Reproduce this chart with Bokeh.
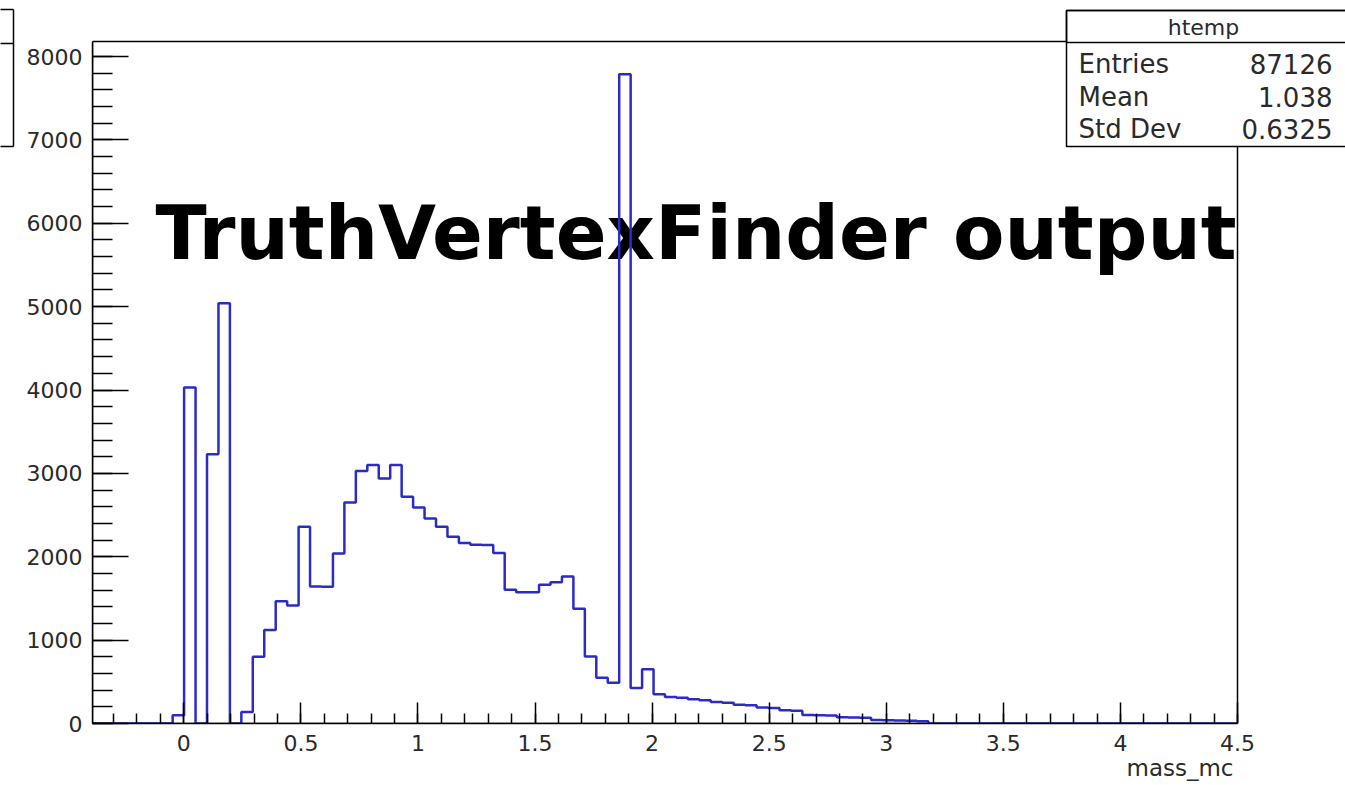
import numpy as np
from bokeh.plotting import figure
from bokeh.models import (Range1d, FixedTicker, Label, BoxAnnotation, LinearAxis, Title)
from bokeh.embed import file_html
from bokeh.resources import INLINE

# ---- data ----
X_MIN = -0.39
X_MAX = 4.5
N_BINS = 100
Y_TOP = 8180

counts = [0, 0, 0, 0, 0, 0, 0, 100, 4030, 0,
          3230, 5040, 0, 139, 800, 1120, 1465, 1415, 2360, 1642,
          1640, 2040, 2650, 3030, 3100, 2940, 3100, 2720, 2590, 2460,
          2360, 2240, 2165, 2145, 2140, 2045, 1603, 1574, 1574, 1663,
          1694, 1762, 1376, 805, 550, 490, 7787, 425, 650, 350,
          318, 310, 290, 280, 258, 250, 225, 218, 192, 185,
          160, 152, 102, 99, 95, 75, 72, 68, 42, 38,
          35, 32, 28, 0, 0, 0, 0, 0, 0, 0,
          0, 0, 0, 0, 0, 0, 0, 0, 0, 0,
          0, 0, 0, 0, 0, 0, 0, 0, 0, 0]

x_ticks = [0.0, 0.5, 1.0, 1.5, 2.0, 2.5, 3.0, 3.5, 4.0, 4.5]
x_tick_labels = ["0", "0.5", "1", "1.5", "2", "2.5", "3", "3.5", "4", "4.5"]
y_ticks = [0, 1000, 2000, 3000, 4000, 5000, 6000, 7000, 8000]
y_tick_labels = ["0", "1000", "2000", "3000", "4000", "5000", "6000", "7000", "8000"]

stats_title = "htemp"
stats_names = ["Entries", "Mean", "Std Dev"]
stats_values = ["87126", "1.038", "0.6325"]
x_title = "mass_mc"
big_title = "TruthVertexFinder output"

# ---- layout (pixels) ----
W, H = 1345, 785
FL, FR_ROOT, FT_ROOT, FB = 92, 1237, 41, 723      # ROOT frame edges on the canvas
px_x = (FR_ROOT - FL) / (X_MAX - X_MIN)           # pixels per x unit
px_y = (FB - FT_ROOT) / Y_TOP                     # pixels per count
x_end = X_MAX + (W - FR_ROOT) / px_x              # plot frame runs to the canvas edge
y_end = Y_TOP + FT_ROOT / px_y                    # ... and to the canvas top

def ypix(page_y):
    """canvas y pixel -> data y"""
    return (FB - page_y) / px_y

p = figure(width=W, height=H, output_backend="svg", toolbar_location=None,
           x_range=Range1d(X_MIN, x_end), y_range=Range1d(0, y_end),
           min_border_left=FL, min_border_right=0,
           min_border_top=0, min_border_bottom=H - FB)
p.xgrid.visible = False
p.ygrid.visible = False
p.outline_line_color = None
p.background_fill_color = "white"
p.border_fill_color = "white"

edges = np.linspace(X_MIN, X_MAX, N_BINS + 1)
ys = list(counts) + [counts[-1]]

# big overlaid text (beneath the histogram line)
BIG = 75
p.add_layout(Label(x=155 - FL, y=FB - (262 - 0.39 * BIG), x_units="screen", y_units="screen",
                   text=big_title, text_font="DejaVu Sans", text_font_style="bold",
                   text_font_size=f"{BIG}px", text_color="black",
                   text_baseline="alphabetic", level="underlay"))

p.step(edges, ys, mode="after", line_color="#2b2bc8", line_width=2.5)

# ROOT frame
p.add_layout(BoxAnnotation(left=X_MIN, right=X_MAX, bottom=0, top=Y_TOP,
                           fill_alpha=0.0, line_color="black", line_width=1.5,
                           line_alpha=1.0))

# axes, ROOT style (ticks inside)
tick_col = "#2a2a2a"
p.xaxis.ticker = FixedTicker(ticks=x_ticks,
                             minor_ticks=[round(0.1 * i, 1) for i in range(-3, 46)])
p.xaxis.major_label_overrides = {v: s for v, s in zip(x_ticks, x_tick_labels)}
p.yaxis.ticker = FixedTicker(ticks=y_ticks, minor_ticks=[200 * i for i in range(41)])
p.yaxis.major_label_overrides = {v: s for v, s in zip(y_ticks, y_tick_labels)}
p.xaxis.bounds = (X_MIN, X_MAX)
p.yaxis.bounds = (0, Y_TOP)

for ax in (p.xaxis, p.yaxis):
    ax.axis_line_color = "black"
    ax.axis_line_width = 1.5
    ax.major_tick_line_color = "black"
    ax.minor_tick_line_color = "black"
    ax.major_tick_line_width = 1.5
    ax.minor_tick_line_width = 1.5
    ax.major_tick_out = 0
    ax.minor_tick_out = 0
    ax.major_label_text_font = "DejaVu Sans"
    ax.major_label_text_font_size = "22px"
    ax.major_label_text_color = tick_col

p.xaxis.major_tick_in = 21
p.xaxis.minor_tick_in = 10
p.xaxis.major_label_standoff = 11
p.yaxis.major_tick_in = 36
p.yaxis.minor_tick_in = 20
p.yaxis.major_label_standoff = 10
p.yaxis.axis_label = " "
p.yaxis.axis_label_text_font_size = "8px"
p.yaxis.axis_label_standoff = -2

# fragment of a neighbouring box at the far left (an extra, label-less axis)
box_ticks = [ypix(146), ypix(43), ypix(8.5)]
left_box = LinearAxis(ticker=FixedTicker(ticks=box_ticks, minor_ticks=[]),
                      bounds=(box_ticks[0], box_ticks[-1]),
                      major_label_overrides={t: "" for t in box_ticks},
                      major_label_standoff=0, major_tick_in=0, major_tick_out=13,
                      minor_tick_in=0, minor_tick_out=0,
                      axis_line_color="black", axis_line_width=1.5,
                      major_tick_line_color="black", major_tick_line_width=1.5)
p.add_layout(left_box, "left")

# x-axis title (right aligned like ROOT)
p.add_layout(Title(text=x_title, align="right", offset=112, standoff=-2,
                   text_font="DejaVu Sans", text_font_size="23px",
                   text_font_style="normal", text_color=tick_col), "below")

# stats box (top right)
p.add_layout(BoxAnnotation(left=1066 - FL, right=W - FL + 20, bottom=FB - 146, top=FB - 10,
                           left_units="screen", right_units="screen",
                           bottom_units="screen", top_units="screen",
                           fill_color="white", fill_alpha=1.0,
                           line_color="black", line_width=1.5, line_alpha=1.0))
p.add_layout(BoxAnnotation(left=1066 - FL, right=W - FL + 20, bottom=FB - 42, top=FB - 10,
                           left_units="screen", right_units="screen",
                           bottom_units="screen", top_units="screen",
                           fill_alpha=0.0, line_color="black", line_width=1.5,
                           line_alpha=1.0))

p.add_layout(Label(x=1203 - FL, y=FB - (36 - 0.39 * 22), x_units="screen", y_units="screen",
                   text=stats_title, text_font="DejaVu Sans", text_font_size="22px",
                   text_color=tick_col, text_align="center", text_baseline="alphabetic"))
row_baselines = [74, 106.5, 139]
for name, val, yb in zip(stats_names, stats_values, row_baselines):
    ys_ = FB - (yb - 0.39 * 26)
    p.add_layout(Label(x=1078 - FL, y=ys_, x_units="screen", y_units="screen",
                       text=name, text_font="DejaVu Sans", text_font_size="26px",
                       text_color=tick_col, text_align="left", text_baseline="alphabetic"))
    p.add_layout(Label(x=1332 - FL, y=ys_, x_units="screen", y_units="screen",
                       text=val, text_font="DejaVu Sans", text_font_size="26px",
                       text_color=tick_col, text_align="right", text_baseline="alphabetic"))

open("out.html", "w").write(file_html(p, INLINE))
